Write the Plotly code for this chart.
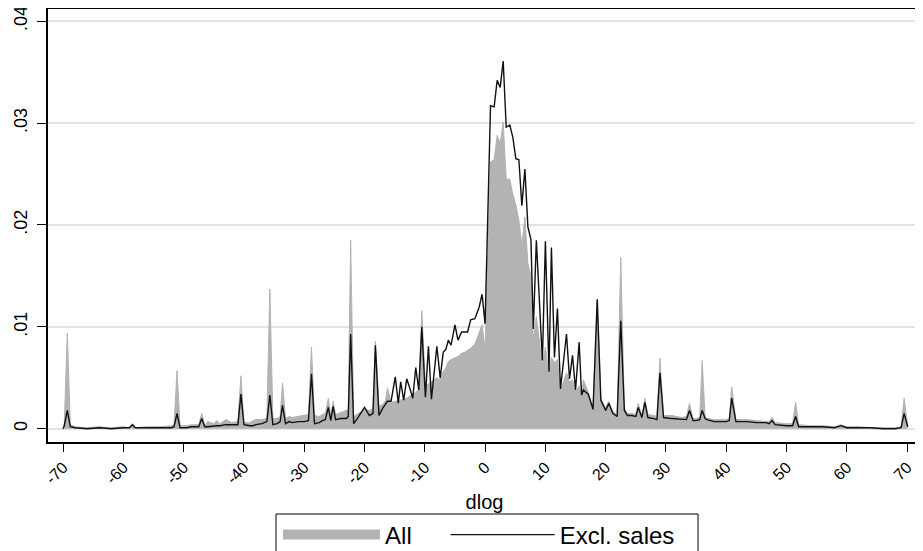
import plotly.graph_objects as go

# dlog positions (x) and density values
dlog = [
    -70.0, -69.8, -69.3, -68.8, -68.0, -66.0, -64.0, -62.0, -60.0, -59.0, -58.5, -58.0,
    -56.0, -54.0, -52.0, -51.6, -51.1, -50.6, -49.5, -48.7, -47.5, -47.0, -46.5, -46.0,
    -45.0, -44.5, -44.0, -43.0, -42.0, -41.0, -40.5, -40.0, -39.0, -38.5, -38.0, -37.0,
    -36.2, -35.7, -35.2, -34.5, -34.0, -33.6, -33.1, -32.5, -32.0, -31.0, -30.0, -29.3,
    -28.8, -28.3, -27.5, -27.0, -26.5, -26.0, -25.6, -25.2, -24.8, -24.0, -23.0, -22.7,
    -22.3, -21.8, -21.2, -20.5, -20.0, -19.2, -18.6, -18.2, -17.6, -17.0, -16.5, -16.2,
    -15.6, -14.9, -14.4, -14.0, -13.5, -13.0, -12.5, -12.0, -11.5, -11.0, -10.5, -9.9,
    -9.4, -8.9, -8.0, -7.45, -6.95, -6.5, -6.1, -5.65, -5.0, -4.5, -3.9, -3.4,
    -2.9, -2.4, -1.7, -1.0, -0.5, 0.0, 0.9, 1.5, 2.0, 2.5, 3.0, 3.5,
    4.1, 4.6, 5.1, 5.6, 6.1, 6.6, 7.1, 7.6, 8.0, 8.5, 9.5, 10.0,
    10.6, 11.0, 11.5, 12.0, 12.5, 13.5, 14.0, 14.5, 15.0, 15.6, 16.0, 16.3,
    17.1, 17.9, 18.6, 19.2, 20.0, 20.5, 21.2, 21.9, 22.5, 23.1, 23.6, 24.3,
    25.0, 25.4, 26.0, 26.5, 27.0, 28.0, 28.5, 29.0, 29.6, 31.0, 32.6, 33.4,
    33.9, 34.5, 35.0, 35.6, 36.0, 36.5, 36.8, 38.0, 40.0, 40.5, 40.9, 41.6,
    43.5, 45.0, 46.6, 47.1, 47.6, 48.1, 50.0, 51.0, 51.5, 52.0, 54.0, 56.0,
    58.0, 59.0, 60.0, 62.0, 64.0, 66.0, 68.0, 69.0, 69.5, 70.1,
]

all_density = [
    0.0000, 0.0005, 0.0094, 0.0004, 0.0002, 0.0001, 0.0002, 0.0001, 0.0002, 0.0001, 0.0005, 0.0001,
    0.0002, 0.0002, 0.0003, 0.0004, 0.0057, 0.0003, 0.0003, 0.0004, 0.0004, 0.0015, 0.0003, 0.0007,
    0.0005, 0.0008, 0.0005, 0.0009, 0.0006, 0.0007, 0.0052, 0.0006, 0.0006, 0.0008, 0.0009, 0.0009,
    0.0010, 0.0137, 0.0010, 0.0010, 0.0012, 0.0045, 0.0010, 0.0012, 0.0011, 0.0012, 0.0013, 0.0014,
    0.0080, 0.0013, 0.0012, 0.0014, 0.0015, 0.0030, 0.0013, 0.0027, 0.0014, 0.0016, 0.0018, 0.0018,
    0.0185, 0.0012, 0.0014, 0.0017, 0.0019, 0.0018, 0.0020, 0.0086, 0.0022, 0.0024, 0.0028, 0.0040,
    0.0026, 0.0027, 0.0027, 0.0028, 0.0029, 0.0030, 0.0032, 0.0034, 0.0036, 0.0038, 0.0116, 0.0042,
    0.0044, 0.0046, 0.0050, 0.0048, 0.0056, 0.0060, 0.0066, 0.0068, 0.0070, 0.0071, 0.0074, 0.0075,
    0.0077, 0.0079, 0.0083, 0.0095, 0.0102, 0.0078, 0.0262, 0.0264, 0.0288, 0.0280, 0.0301, 0.0245,
    0.0245, 0.0230, 0.0220, 0.0205, 0.0180, 0.0208, 0.0162, 0.0150, 0.0087, 0.0110, 0.0062, 0.0080,
    0.0053, 0.0070, 0.0065, 0.0068, 0.0037, 0.0055, 0.0046, 0.0048, 0.0036, 0.0042, 0.0033, 0.0048,
    0.0036, 0.0021, 0.0125, 0.0030, 0.0020, 0.0027, 0.0017, 0.0014, 0.0168, 0.0020, 0.0015, 0.0015,
    0.0014, 0.0025, 0.0013, 0.0030, 0.0014, 0.0013, 0.0012, 0.0069, 0.0013, 0.0013, 0.0011, 0.0012,
    0.0025, 0.0010, 0.0010, 0.0011, 0.0067, 0.0011, 0.0010, 0.0009, 0.0009, 0.0010, 0.0041, 0.0009,
    0.0009, 0.0008, 0.0007, 0.0007, 0.0011, 0.0006, 0.0005, 0.0005, 0.0026, 0.0004, 0.0003, 0.0003,
    0.0002, 0.0004, 0.0002, 0.0002, 0.0001, 0.0001, 0.0001, 0.0002, 0.0030, 0.0002,
]

excl_sales_density = [
    0.0000, 0.0003, 0.0018, 0.0002, 0.0001, 0.0000, 0.0001, 0.0000, 0.0001, 0.0001, 0.0004, 0.0001,
    0.0001, 0.0001, 0.0001, 0.0002, 0.0015, 0.0001, 0.0001, 0.0002, 0.0002, 0.0010, 0.0002, 0.0002,
    0.0003, 0.0003, 0.0003, 0.0004, 0.0004, 0.0004, 0.0034, 0.0004, 0.0003, 0.0003, 0.0004, 0.0005,
    0.0007, 0.0033, 0.0004, 0.0005, 0.0007, 0.0023, 0.0005, 0.0007, 0.0006, 0.0007, 0.0007, 0.0008,
    0.0054, 0.0005, 0.0006, 0.0008, 0.0009, 0.0021, 0.0008, 0.0022, 0.0009, 0.0010, 0.0010, 0.0012,
    0.0093, 0.0005, 0.0010, 0.0016, 0.0021, 0.0013, 0.0015, 0.0082, 0.0013, 0.0020, 0.0025, 0.0027,
    0.0027, 0.0051, 0.0025, 0.0046, 0.0028, 0.0049, 0.0040, 0.0030, 0.0060, 0.0038, 0.0100, 0.0031,
    0.0081, 0.0029, 0.0081, 0.0050, 0.0075, 0.0078, 0.0087, 0.0082, 0.0102, 0.0087, 0.0095, 0.0095,
    0.0095, 0.0107, 0.0108, 0.0119, 0.0132, 0.0103, 0.0317, 0.0316, 0.0342, 0.0335, 0.0361, 0.0296,
    0.0298, 0.0286, 0.0265, 0.0264, 0.0219, 0.0255, 0.0198, 0.0186, 0.0098, 0.0185, 0.0067, 0.0184,
    0.0056, 0.0178, 0.0070, 0.0118, 0.0039, 0.0093, 0.0049, 0.0072, 0.0038, 0.0085, 0.0033, 0.0038,
    0.0034, 0.0019, 0.0127, 0.0028, 0.0018, 0.0025, 0.0015, 0.0012, 0.0106, 0.0018, 0.0013, 0.0013,
    0.0012, 0.0021, 0.0011, 0.0026, 0.0011, 0.0010, 0.0009, 0.0055, 0.0011, 0.0010, 0.0009, 0.0009,
    0.0018, 0.0008, 0.0008, 0.0009, 0.0018, 0.0010, 0.0009, 0.0007, 0.0007, 0.0008, 0.0030, 0.0007,
    0.0007, 0.0006, 0.0006, 0.0005, 0.0008, 0.0004, 0.0003, 0.0003, 0.0012, 0.0002, 0.0002, 0.0002,
    0.0001, 0.0003, 0.0001, 0.0001, 0.0001, 0.0000, 0.0000, 0.0001, 0.0015, 0.0002,
]

x_tick_vals = [-70, -60, -50, -40, -30, -20, -10, 0, 10, 20, 30, 40, 50, 60, 70]
x_tick_text = ["-70", "-60", "-50", "-40", "-30", "-20", "-10", "0", "10", "20", "30", "40", "50", "60", "70"]
y_tick_vals = [0, 0.01, 0.02, 0.03, 0.04]
y_tick_text = ["0", ".01", ".02", ".03", ".04"]

FONT = "Liberation Sans, Arial, sans-serif"
GRAY = "#b3b3b3"

fig = go.Figure()
fig.add_trace(go.Scatter(
    x=dlog, y=all_density, name="All", mode="lines",
    fill="tozeroy", fillcolor=GRAY,
    line=dict(color=GRAY, width=1), showlegend=False,
))
# legend-only proxy giving a tall grey swatch for "All"
fig.add_trace(go.Scatter(
    x=[None], y=[None], name="All", mode="lines",
    line=dict(color=GRAY, width=20), legend="legend",
))
fig.add_trace(go.Scatter(
    x=dlog, y=excl_sales_density, name="Excl. sales", mode="lines",
    line=dict(color="#111111", width=1.4), legend="legend2",
))

# page body has an 8px default margin, so margins are offset by 8px
# plot area on the page: x 48..921, y 9..442
LEG_FONT = dict(size=24, family=FONT)
fig.update_layout(
    width=923, height=551,
    margin=dict(l=40, r=10, t=1, b=117),
    paper_bgcolor="white", plot_bgcolor="white",
    font=dict(family=FONT, color="black"),
    showlegend=True,
    legend=dict(
        orientation="h", x=0.2635, xanchor="left", y=-0.2148, yanchor="middle",
        borderwidth=0, bgcolor="rgba(0,0,0,0)", font=LEG_FONT, itemwidth=97,
    ),
    legend2=dict(
        orientation="h", x=0.4555, xanchor="left", y=-0.2148, yanchor="middle",
        borderwidth=0, bgcolor="rgba(0,0,0,0)", font=LEG_FONT, itemwidth=104,
    ),
    shapes=[dict(
        type="rect", xref="paper", yref="paper",
        x0=0.2612, x1=0.7446, y0=-0.2725, y1=-0.1663,
        line=dict(color="black", width=1), fillcolor="rgba(0,0,0,0)", layer="below",
    )],
    xaxis=dict(
        range=[-72.5, 72.3], tickmode="array", tickvals=x_tick_vals, ticktext=x_tick_text,
        tickangle=-45, tickfont=dict(size=16), ticks="outside", ticklen=8, tickcolor="black",
        showgrid=False, zeroline=False, showline=True, linecolor="black", linewidth=1.5,
        mirror=True, automargin=False, ticklabeloverflow="allow",
        title=dict(text="dlog", font=dict(size=20), standoff=9),
    ),
    yaxis=dict(
        range=[-0.0013, 0.0412], tickmode="array", tickvals=y_tick_vals, ticktext=y_tick_text,
        tickangle=-90, tickfont=dict(size=18), ticks="outside", ticklen=9, tickcolor="black",
        ticklabelstandoff=3, ticklabeloverflow="allow",
        showgrid=True, gridcolor="#e3e3e3", gridwidth=1.5, zeroline=False,
        showline=True, linecolor="black", linewidth=1.5, mirror=True, automargin=False,
    ),
)

fig.write_html("out.html")
